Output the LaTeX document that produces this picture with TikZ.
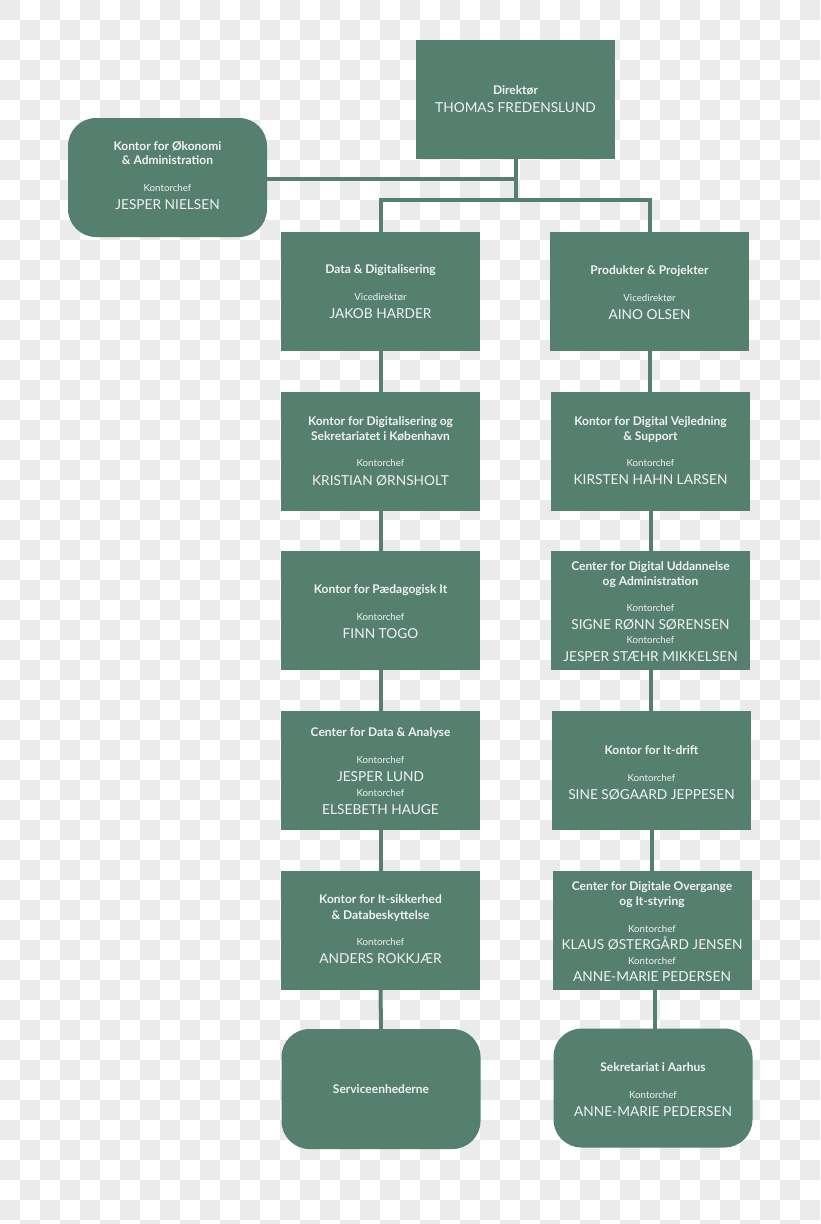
\documentclass[tikz,border=0pt]{standalone}
\usepackage{fontspec}
\setmainfont{Lato}
\definecolor{boxgreen}{RGB}{85,128,112}
\definecolor{checkgray}{RGB}{235,235,235}
\definecolor{txtwhite}{RGB}{242,242,242}
\tikzset{
  unitbox/.style={fill=boxgreen, draw=none, minimum width=199pt, minimum height=119pt, inner sep=0pt, outer sep=0pt},
  roundbox/.style={unitbox, rounded corners=28pt},
  conn/.style={draw=boxgreen, line width=4pt},
  ti/.style={text=txtwhite, font=\fontsize{12}{14}\selectfont\bfseries, inner sep=0pt, text height=8.7pt, text depth=0pt},
  sm/.style={text=txtwhite, font=\fontsize{9.7}{11}\selectfont, inner sep=0pt, text height=7pt, text depth=0pt},
  nm/.style={text=txtwhite, font=\fontsize{13.7}{16}\selectfont, inner sep=0pt, text height=9.9pt, text depth=0pt},
}
\begin{document}
\begin{tikzpicture}[x=1pt,y=-1pt]
\useasboundingbox (0,0) rectangle (820,1224);
% transparency checkerboard
\foreach \j in {0,2,...,60} \foreach \i in {0,2,...,40} \fill[checkgray] (\i*20,\j*20) rectangle ++(20,20);
\foreach \j in {1,3,...,61} \foreach \i in {1,3,...,39} \fill[checkgray] (\i*20,\j*20) rectangle ++(20,20);

% boxes
\node[unitbox] (dir) at (515.5,99.5) {};
\node[roundbox] (oek) at (167.5,177.5) {};
\node[unitbox] (dd) at (380.5,291.5) {};
\node[unitbox] (pp) at (649.5,291.5) {};
\node[unitbox] (l2) at (380.5,451.5) {};
\node[unitbox] (r2) at (650.5,451.5) {};
\node[unitbox] (l3) at (380.5,610.5) {};
\node[unitbox] (r3) at (650.5,610.5) {};
\node[unitbox] (l4) at (380.5,770.5) {};
\node[unitbox] (r4) at (651.5,770.5) {};
\node[unitbox] (l5) at (380.5,930) {};
\node[unitbox] (r5) at (652,930.5) {};
\node[roundbox, minimum height=120pt] (l6) at (381,1089) {};
\node[roundbox] (r6) at (653,1088) {};

% connectors
\coordinate (junc) at (515.5,200);
\draw[conn] (dir.south) -- (junc);
\draw[conn] (oek.east) ++(0,1.5) coordinate (oekc) -- (oekc -| dir.south);
\draw[conn] (dd.north) |- (junc) -| (pp.north);
\draw[conn] (dd.south) -- (l2.north);
\draw[conn] (l2.south) -- (l3.north);
\draw[conn] (l3.south) -- (l4.north);
\draw[conn] (l4.south) -- (l5.north);
\draw[conn] (l5.south) -- (l6.north);
\draw[conn] (pp.south) -- (pp.south |- r2.north);
\draw[conn] (r2.south) -- (r2.south |- r3.north);
\draw[conn] (r3.south) -- (r3.south |- r4.north);
\draw[conn] (r4.south) -- (r4.south |- r5.north);
\draw[conn] (r5.south) ++(3,0) coordinate (r5s) -- (r5s |- r6.north);

% redraw boxes on top of connector ends
\foreach \b in {dir,dd,pp,l2,r2,l3,r3,l4,r4,l5,r5}{\fill[boxgreen] (\b.north west) rectangle (\b.south east);}

% texts
\node[ti] (dirT) at (515.5,90) {Direktør};
\node[nm] (dirN) at (515.5,108) {THOMAS FREDENSLUND};

\node[ti] (oekT1) at (167.5,146) {Kontor for Økonomi};
\node[ti] (oekT2) at (167.5,160) {\& Administration};
\node[sm] (oekS) at (167.5,188) {Kontorchef};
\node[nm] (oekN) at (167.5,205) {JESPER NIELSEN};

\node[ti] (ddT) at (380.5,269) {Data \& Digitalisering};
\node[sm] (ddS) at (380.5,297) {Vicedirektør};
\node[nm] (ddN) at (380.5,314) {JAKOB HARDER};

\node[ti] (ppT) at (649.5,270) {Produkter \& Projekter};
\node[sm] (ppS) at (649.5,298) {Vicedirektør};
\node[nm] (ppN) at (649.5,315) {AINO OLSEN};

\node[ti] (l2T1) at (380.5,421) {Kontor for Digitalisering og};
\node[ti] (l2T2) at (380.5,436) {Sekretariatet i København};
\node[sm] (l2S) at (380.5,463) {Kontorchef};
\node[nm] (l2N) at (380.5,481) {KRISTIAN ØRNSHOLT};

\node[ti] (r2T1) at (650.5,421) {Kontor for Digital Vejledning};
\node[ti] (r2T2) at (650.5,436) {\& Support};
\node[sm] (r2S) at (650.5,463) {Kontorchef};
\node[nm] (r2N) at (650.5,480) {KIRSTEN HAHN LARSEN};

\node[ti] (l3T) at (380.5,589) {Kontor for Pædagogisk It};
\node[sm] (l3S) at (380.5,617) {Kontorchef};
\node[nm] (l3N) at (380.5,634) {FINN TOGO};

\node[ti] (r3T1) at (650.5,566) {Center for Digital Uddannelse};
\node[ti] (r3T2) at (650.5,581) {og Administration};
\node[sm] (r3S1) at (650.5,608) {Kontorchef};
\node[nm] (r3N1) at (650.5,625) {SIGNE RØNN SØRENSEN};
\node[sm] (r3S2) at (650.5,640) {Kontorchef};
\node[nm] (r3N2) at (650.5,657) {JESPER STÆHR MIKKELSEN};

\node[ti] (l4T) at (380.5,732) {Center for Data \& Analyse};
\node[sm] (l4S1) at (380.5,760) {Kontorchef};
\node[nm] (l4N1) at (380.5,777) {JESPER LUND};
\node[sm] (l4S2) at (380.5,793) {Kontorchef};
\node[nm] (l4N2) at (380.5,810) {ELSEBETH HAUGE};

\node[ti] (r4T) at (651.5,750) {Kontor for It-drift};
\node[sm] (r4S) at (651.5,778) {Kontorchef};
\node[nm] (r4N) at (651.5,795) {SINE SØGAARD JEPPESEN};

\node[ti] (l5T1) at (380.5,899) {Kontor for It-sikkerhed};
\node[ti] (l5T2) at (380.5,915) {\& Databeskyttelse};
\node[sm] (l5S) at (380.5,942) {Kontorchef};
\node[nm] (l5N) at (380.5,959) {ANDERS ROKKJÆR};

\node[ti] (r5T1) at (652,886) {Center for Digitale Overgange};
\node[ti] (r5T2) at (652,901) {og It-styring};
\node[sm] (r5S1) at (652,929) {Kontorchef};
\node[nm] (r5N1) at (652,945) {KLAUS ØSTERGÅRD JENSEN};
\node[sm] (r5S2) at (652,961) {Kontorchef};
\node[nm] (r5N2) at (652,977) {ANNE-MARIE PEDERSEN};

\node[ti] (l6T) at (381,1089) {Serviceenhederne};

\node[ti] (r6T) at (653,1067) {Sekretariat i Aarhus};
\node[sm] (r6S) at (653,1095) {Kontorchef};
\node[nm] (r6N) at (653,1112) {ANNE-MARIE PEDERSEN};
\end{tikzpicture}
\end{document}
